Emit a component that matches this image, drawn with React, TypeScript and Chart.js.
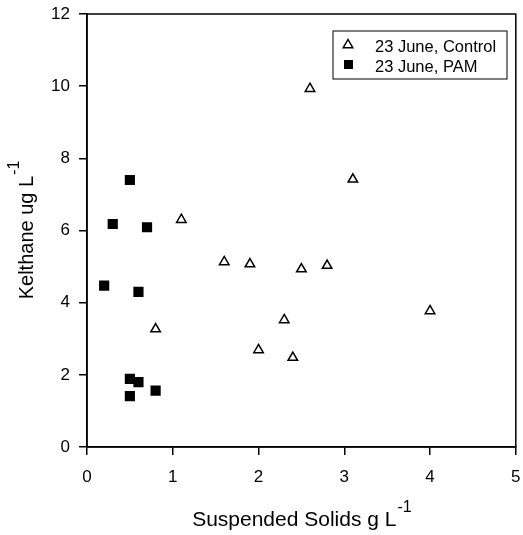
import React, { useEffect, useRef } from 'react';
import { Chart, registerables } from 'chart.js';

Chart.register(...registerables);

const controlX = [0.8, 1.1, 1.6, 1.9, 2.0, 2.3, 2.4, 2.5, 2.6, 2.8, 3.1, 4.0];
const controlY = [3.27, 6.3, 5.13, 5.07, 2.69, 3.52, 2.48, 4.93, 9.93, 5.03, 7.42, 3.77];
const pamX = [0.2, 0.3, 0.5, 0.7, 0.6, 0.5, 0.6, 0.5, 0.8];
const pamY = [4.47, 6.18, 7.4, 6.09, 4.3, 1.89, 1.8, 1.41, 1.56];
const xTicks = [0, 1, 2, 3, 4, 5];
const yTicks = [0, 2, 4, 6, 8, 10, 12];
const seriesNames = ['23 June, Control', '23 June, PAM'];
const xTitleMain = 'Suspended Solids g L';
const yTitleMain = 'Kelthane ug L';
const titleSup = '-1';

const FONT = "'Liberation Sans', Arial, sans-serif";

function drawSupText(ctx: CanvasRenderingContext2D, main: string, sup: string, cx: number, baseY: number, size: number, supSize: number, rise: number) {
  ctx.font = `${size}px ${FONT}`;
  const w1 = ctx.measureText(main).width;
  ctx.font = `${supSize}px ${FONT}`;
  const w2 = ctx.measureText(sup).width;
  const start = cx - (w1 + w2) / 2;
  ctx.textAlign = 'left';
  ctx.textBaseline = 'alphabetic';
  ctx.font = `${size}px ${FONT}`;
  ctx.fillText(main, start, baseY);
  ctx.font = `${supSize}px ${FONT}`;
  ctx.fillText(sup, start + w1 + 1, baseY - rise);
}

const decorPlugin = {
  id: 'decor',
  afterDraw(chart: any) {
    const ctx: CanvasRenderingContext2D = chart.ctx;
    const { left, top, right, bottom } = chart.chartArea;
    ctx.save();
    ctx.strokeStyle = '#000';
    ctx.lineWidth = 1.5;
    ctx.strokeRect(left, top, right - left, bottom - top);
    ctx.fillStyle = '#000';
    // x title
    drawSupText(ctx, xTitleMain, titleSup, (left + right) / 2, 526, 21, 16, 14);
    // y title
    ctx.save();
    ctx.translate(33, (top + bottom) / 2);
    ctx.rotate(-Math.PI / 2);
    drawSupText(ctx, yTitleMain, titleSup, 0, 0, 20, 16, 14);
    ctx.restore();
    // legend
    const lx = 333, ly = 31, lw = 174, lh = 48;
    ctx.lineWidth = 1;
    ctx.strokeRect(lx, ly, lw, lh);
    const tx = 348, ty = 45, r = 5.5;
    ctx.lineWidth = 1.5;
    ctx.beginPath();
    ctx.moveTo(tx, ty - r);
    ctx.lineTo(tx + r * 0.866, ty + r / 2);
    ctx.lineTo(tx - r * 0.866, ty + r / 2);
    ctx.closePath();
    ctx.stroke();
    ctx.fillRect(344, 60, 9, 9);
    ctx.font = `16.5px ${FONT}`;
    ctx.textAlign = 'left';
    ctx.textBaseline = 'alphabetic';
    ctx.fillText(seriesNames[0], 375, 52);
    ctx.fillText(seriesNames[1], 375, 72);
    ctx.restore();
  },
};

function zeroPad(s: any) {
  s.paddingLeft = 0;
  s.paddingRight = 0;
  s.paddingTop = 0;
  s.paddingBottom = 0;
}

export default function App() {
  const ref = useRef<HTMLCanvasElement | null>(null);
  useEffect(() => {
    if (!ref.current) return;
    const chart = new Chart(ref.current, {
      type: 'scatter',
      data: {
        datasets: [
          {
            label: seriesNames[0],
            data: controlX.map((x, i) => ({ x, y: controlY[i] })),
            pointStyle: 'triangle',
            pointRadius: 5.5,
            pointBorderWidth: 1.5,
            borderColor: '#000',
            backgroundColor: '#fff',
          },
          {
            label: seriesNames[1],
            data: pamX.map((x, i) => ({ x, y: pamY[i] })),
            pointStyle: 'rect',
            pointRadius: 7.2,
            pointBorderWidth: 0,
            borderColor: '#000',
            backgroundColor: '#000',
          },
        ],
      },
      options: {
        responsive: false,
        animation: false,
        devicePixelRatio: 1,
        layout: { padding: { top: 14, right: 6, left: 0, bottom: 0 } },
        plugins: { legend: { display: false }, tooltip: { enabled: false } },
        scales: {
          x: {
            type: 'linear',
            min: 0,
            max: 5,
            afterBuildTicks: (s: any) => { s.ticks = xTicks.map((v) => ({ value: v })); },
            afterFit: (s: any) => { s.height = 88; zeroPad(s); },
            grid: { display: true, drawOnChartArea: false, drawTicks: true, tickLength: 8, color: '#000', lineWidth: 1.5 },
            border: { display: true, color: '#000', width: 1.5 },
            ticks: { color: '#000', font: { family: FONT, size: 17 }, padding: 12, maxRotation: 0 },
          },
          y: {
            type: 'linear',
            min: 0,
            max: 12,
            afterBuildTicks: (s: any) => { s.ticks = yTicks.map((v) => ({ value: v })); },
            afterFit: (s: any) => { s.width = 87; zeroPad(s); },
            grid: { display: true, drawOnChartArea: false, drawTicks: true, tickLength: 8, color: '#000', lineWidth: 1.5 },
            border: { display: true, color: '#000', width: 1.5 },
            ticks: { color: '#000', font: { family: FONT, size: 17 }, padding: 9 },
          },
        },
      },
      plugins: [decorPlugin],
    });
    return () => chart.destroy();
  }, []);
  return (
    <div style={{ position: 'absolute', left: 0, top: 0, width: 523, height: 535, background: '#fff' }}>
      <canvas ref={ref} width={523} height={535} />
    </div>
  );
}
